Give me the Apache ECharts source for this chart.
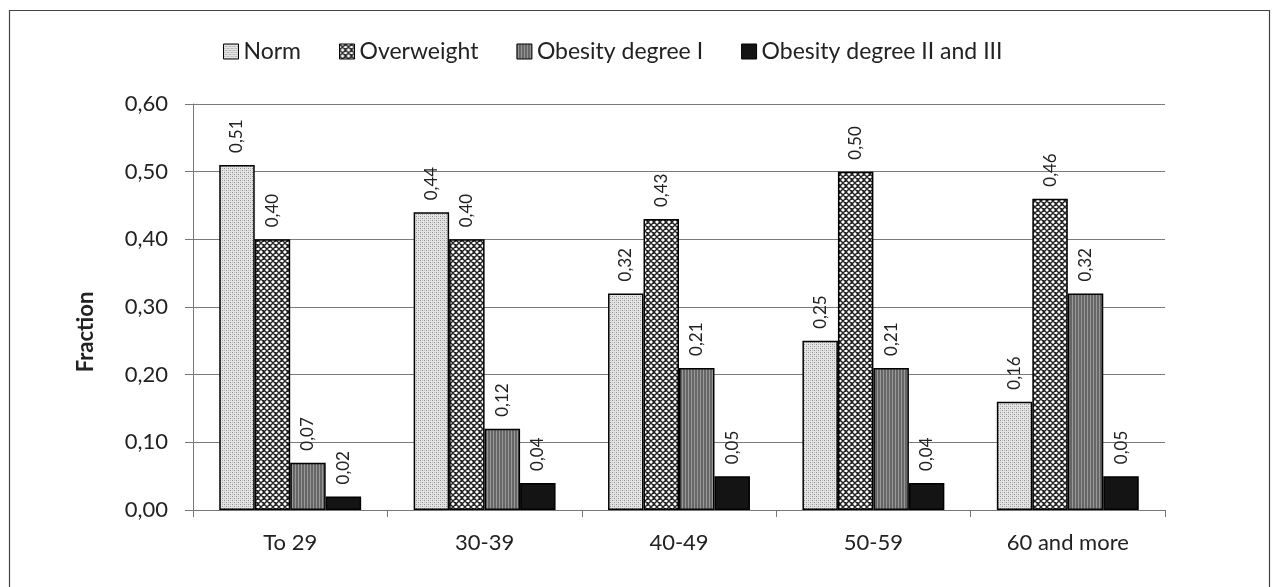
<!DOCTYPE html>
<html>
<head>
<meta charset="utf-8">
<script src="https://cdn.jsdelivr.net/npm/echarts@6/dist/echarts.min.js"></script>
<style>
html,body{margin:0;padding:0;background:#fff;}
#c{width:1272px;height:587px;}
</style>
</head>
<body>
<div id="c"></div>
<script>
var categories = ['To 29', '30-39', '40-49', '50-59', '60 and more'];
var seriesNames = ['Norm', 'Overweight', 'Obesity degree I', 'Obesity degree II and III'];
var normValues = [0.51, 0.44, 0.32, 0.25, 0.16];
var overweightValues = [0.40, 0.40, 0.43, 0.50, 0.46];
var obesity1Values = [0.07, 0.12, 0.21, 0.21, 0.32];
var obesity23Values = [0.02, 0.04, 0.05, 0.04, 0.05];

function makeCanvas(w, h, draw) {
  var c = document.createElement('canvas');
  c.width = w; c.height = h;
  draw(c.getContext('2d'));
  return c;
}
// Norm: fine light-gray dot pattern
var patNorm = makeCanvas(4, 4, function (g) {
  g.fillStyle = '#e4e4e4'; g.fillRect(0, 0, 4, 4);
  g.fillStyle = '#8f8f8f';
  g.fillRect(0, 0, 1, 1); g.fillRect(2, 2, 1, 1);
  g.fillStyle = '#bdbdbd';
  g.fillRect(2, 0, 1, 1); g.fillRect(0, 2, 1, 1);
});
// Overweight: diamond lattice
var patOver = makeCanvas(6, 6, function (g) {
  g.fillStyle = '#ffffff'; g.fillRect(0, 0, 6, 6);
  g.strokeStyle = '#222'; g.lineWidth = 1.4;
  g.beginPath();
  g.moveTo(-1, -1); g.lineTo(7, 7);
  g.moveTo(-1, 7); g.lineTo(7, -1);
  g.moveTo(2, -1); g.lineTo(-1, 2);
  g.moveTo(4, -1); g.lineTo(7, 2);
  g.moveTo(-1, 4); g.lineTo(2, 7);
  g.moveTo(7, 4); g.lineTo(4, 7);
  g.stroke();
});
// Obesity I: gray with vertical lines
var patOb1 = makeCanvas(3, 4, function (g) {
  g.fillStyle = '#666666'; g.fillRect(0, 0, 3, 4);
  g.fillStyle = '#989898'; g.fillRect(1, 0, 1, 4);
});
// Obesity II/III: near black
var patOb2 = makeCanvas(4, 4, function (g) {
  g.fillStyle = '#141414'; g.fillRect(0, 0, 4, 4);
});

var patterns = [patNorm, patOver, patOb1, patOb2];
var values = [normValues, overweightValues, obesity1Values, obesity23Values];

function fmt(v) { return v.toFixed(2).replace('.', ','); }

var FONT = 'Lato';

var series = seriesNames.map(function (name, i) {
  return {
    name: name,
    type: 'bar',
    data: values[i],
    barGap: '0%',
    barCategoryGap: '27%',
    itemStyle: {
      color: { image: patterns[i], repeat: 'repeat' },
      borderColor: '#000',
      borderWidth: 1.5
    },
    label: {
      show: true,
      position: 'top',
      rotate: 90,
      align: 'left',
      verticalAlign: 'middle',
      distance: 12,
      color: '#222',
      fontFamily: FONT,
      fontSize: 17,
      formatter: function (p) { return fmt(p.value); }
    }
  };
});

var chart = echarts.init(document.getElementById('c'), null, { renderer: 'canvas' });
chart.setOption({
  animation: false,
  backgroundColor: '#fff',
  textStyle: { fontFamily: FONT },
  graphic: [{
    type: 'rect',
    shape: { x: 9.5, y: 10.5, width: 1260, height: 620 },
    style: { fill: 'none', stroke: '#444', lineWidth: 1.2 },
    silent: true
  }],
  legend: {
    top: 35,
    left: 218,
    itemWidth: 15,
    itemHeight: 15,
    itemGap: 38,
    icon: 'rect',
    textStyle: { fontFamily: FONT, fontSize: 23, color: '#222', padding: [0, 0, 0, 0] },
    itemStyle: { borderColor: '#000', borderWidth: 1 },
    data: seriesNames
  },
  grid: { left: 193, right: 107, top: 104, bottom: 77 },
  xAxis: {
    type: 'category',
    data: categories,
    axisLine: { lineStyle: { color: '#777', width: 1 } },
    axisTick: { show: true, alignWithLabel: false, length: 7, lineStyle: { color: '#777' } },
    axisLabel: { fontFamily: FONT, fontSize: 22, color: '#222', margin: 22 }
  },
  yAxis: {
    type: 'value',
    min: 0,
    max: 0.6,
    interval: 0.1,
    name: 'Fraction',
    nameLocation: 'middle',
    nameGap: 96,
    nameTextStyle: { fontFamily: FONT, fontSize: 22, fontWeight: 'bold', color: '#222', padding: [0, 50, 0, 0] },
    axisLine: { show: true, lineStyle: { color: '#777', width: 1 } },
    axisTick: { show: true, length: 8, lineStyle: { color: '#777' } },
    axisLabel: { fontFamily: FONT, fontSize: 22, color: '#222', margin: 25,
      formatter: function (v) { return fmt(v); } },
    splitLine: { show: true, lineStyle: { color: '#7a7a7a', width: 1 } }
  },
  series: series
});
</script>
</body>
</html>
